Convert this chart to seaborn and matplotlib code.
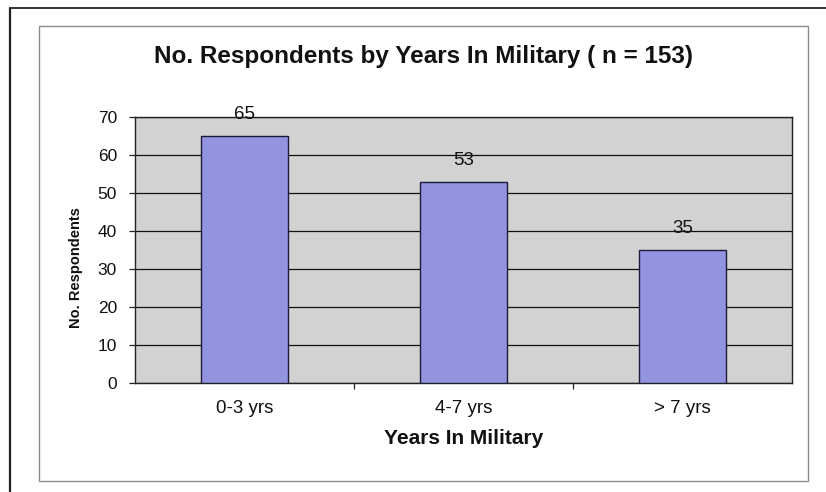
import matplotlib
matplotlib.use("Agg")
import matplotlib.pyplot as plt
from matplotlib.patches import Rectangle
from matplotlib.lines import Line2D
import seaborn as sns
import pandas as pd

# Respondent counts by years of service
categories = ["0-3 yrs", "4-7 yrs", "> 7 yrs"]
respondents = [65, 53, 35]
y_ticks = [0, 10, 20, 30, 40, 50, 60, 70]

title = "No. Respondents by Years In Military ( n = 153)"
x_label = "Years In Military"
y_label = "No. Respondents"

sns.set_theme(style="white")
plt.rcParams["font.family"] = ["Liberation Sans", "DejaVu Sans"]

df = pd.DataFrame({"years": categories, "count": respondents})

fig = plt.figure(figsize=(8.26, 4.92), dpi=100)
W, H = 826, 492

# outer frame (left and top black edges) and inner chart border
fig.add_artist(Line2D([10 / W, 10 / W], [0, 1 - 8 / H], color="#222222", lw=1.6,
                      transform=fig.transFigure))
fig.add_artist(Line2D([10 / W, 1], [1 - 8 / H, 1 - 8 / H], color="#333333", lw=1.4,
                      transform=fig.transFigure))
fig.add_artist(Rectangle((39 / W, 1 - 481 / H), (808 - 39) / W, (481 - 26) / H,
                         fill=False, edgecolor="#8a8a8a", lw=1.0,
                         transform=fig.transFigure))

ax = fig.add_axes([135 / W, 1 - 383 / H, (792 - 135) / W, (383 - 117) / H])
ax.set_facecolor("#d2d2d2")

sns.barplot(data=df, x="years", y="count", ax=ax, width=0.40,
            color="#9393e0", edgecolor="#1a1a3a", linewidth=1.0,
            saturation=1, zorder=3)

ax.set_ylim(0, 70)
ax.set_xlim(-0.5, 2.5)
ax.set_yticks(y_ticks)
ax.yaxis.grid(True, color="#111111", linewidth=0.9, zorder=1)
ax.set_axisbelow(True)

for spine in ax.spines.values():
    spine.set_visible(True)
    spine.set_color("#222222")
    spine.set_linewidth(1.0)

# category ticks sit between the bars
ax.set_xticks([0, 1, 2])
ax.set_xticklabels(categories, fontsize=13.5, color="#111111")
ax.tick_params(axis="x", length=0, pad=12)
ax.set_xticks([0.5, 1.5], minor=True)
ax.tick_params(axis="x", which="minor", direction="out", length=4,
               width=0.9, color="#222222", bottom=True)
ax.tick_params(axis="y", direction="out", length=4, width=0.9,
               color="#222222", left=True, labelsize=12.5,
               labelcolor="#111111", pad=9)

for i, v in enumerate(respondents):
    ax.annotate(str(v), (i, v), xytext=(0, 15.5), textcoords="offset points",
                ha="center", va="center", fontsize=13.5, color="#111111",
                zorder=5)

ax.set_xlabel(x_label, fontsize=15, fontweight="bold", labelpad=9,
              color="#111111")
ax.set_ylabel("")
fig.text(76 / W, 1 - 268 / H, y_label, rotation=90, ha="center", va="center",
         fontsize=10.5, fontweight="bold", color="#111111")

fig.text(424 / W, 1 - 57 / H, title, ha="center", va="center",
         fontsize=17.5, fontweight="bold", color="#111111")

fig.savefig("out.png", dpi=100, facecolor="white")
